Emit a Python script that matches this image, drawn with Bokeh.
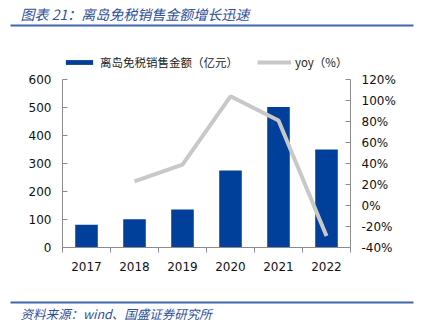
from bokeh.plotting import figure
from bokeh.layouts import column
from bokeh.models import (Range1d, LinearAxis, FixedTicker, PrintfTickFormatter,
                          Legend, LegendItem, ColumnDataSource)
from bokeh.core.properties import value
from bokeh.embed import file_html
from bokeh.resources import INLINE

# ---- data ----
years = ["2017", "2018", "2019", "2020", "2021", "2022"]
sales = [81, 101, 136, 275, 502, 350]          # 离岛免税销售金额（亿元）
yoy = [None, 23, 39, 104, 81, -29]              # yoy（%）
left_ticks = [0, 100, 200, 300, 400, 500, 600]
right_ticks = [-40, -20, 0, 20, 40, 60, 80, 100, 120]
series_names = ["离岛免税销售金额（亿元）", "yoy（%）"]

title_text = "图表 21：离岛免税销售金额增长迅速"
source_text = "资料来源：wind、国盛证券研究所"

BLUE = "#00409A"
GREY = "#C8C8C8"
RULE = "#3F66AE"
TXT_BLUE = "#2F4F9A"
AX = "#8C8C8C"
CJK = "Noto Sans CJK SC"
NUM = "DejaVu Sans"

W = 421
HH = 72
NAN = float("nan")

# ---- header (title, rule, legend) ----
hdr = figure(width=W, height=HH, x_range=Range1d(0, W), y_range=Range1d(HH, 0),
             output_backend="svg", toolbar_location=None, min_border=0, frame_align=False)
hdr.axis.visible = False
hdr.grid.visible = False
hdr.outline_line_color = None
hdr.text(x=[20], y=[13], text=[title_text], text_font=value(CJK), text_font_size="14px",
         text_font_style="italic", text_color=TXT_BLUE, text_baseline="middle", text_align="left")
hdr.line(x=[10, 413], y=[25, 25], line_color=RULE, line_width=2)
# legend glyph proxies (undrawn NaN point, only used for the legend swatches)
lg_bar = hdr.vbar(x=[NAN], top=[NAN], width=1, fill_color=BLUE, line_color=None)
lg_line = hdr.line(x=[NAN, NAN], y=[NAN, NAN], line_color=GREY, line_width=4)
legend = Legend(items=[LegendItem(label=series_names[0], renderers=[lg_bar]),
                       LegendItem(label=series_names[1], renderers=[lg_line])],
                orientation="horizontal", location=(62, 2),
                glyph_width=34, glyph_height=6, label_standoff=4, spacing=19,
                padding=0, margin=0, border_line_color=None, background_fill_alpha=0,
                label_text_font=CJK, label_text_font_size="11.5px", label_text_color="#222222")
hdr.add_layout(legend, "center")

# ---- main chart ----
n = len(years)
xs = [i + 0.5 for i in range(n)]
src = ColumnDataSource(dict(x=xs, sales=sales))
yoy_x = [x for x, v in zip(xs, yoy) if v is not None]
yoy_v = [v for v in yoy if v is not None]

p = figure(width=W, height=295 - HH, x_range=Range1d(0, n), y_range=Range1d(0, 600),
           output_backend="svg", toolbar_location=None, frame_align=False,
           min_border_left=62, min_border_right=71, min_border_top=79 - HH, min_border_bottom=48)
p.outline_line_color = None
p.grid.visible = False
p.extra_y_ranges = {"yoy": Range1d(-40, 120)}

bars = p.vbar(x="x", top="sales", width=0.47, source=src, fill_color=BLUE, line_color=None)
ln = p.line(x=yoy_x, y=yoy_v, y_range_name="yoy", line_color=GREY, line_width=4)

# x axis
xa = p.xaxis[0]
xa.ticker = FixedTicker(ticks=xs, minor_ticks=list(range(n + 1)))
xa.major_label_overrides = {x: y for x, y in zip(xs, years)}
xa.major_tick_line_color = None
xa.major_tick_out = 0
xa.major_tick_in = 0
xa.minor_tick_out = 5
xa.minor_tick_in = 0
xa.minor_tick_line_color = AX
xa.axis_line_color = AX
xa.major_label_standoff = 9
xa.major_label_text_font = NUM
xa.major_label_text_font_size = "12px"
xa.major_label_text_color = "#111111"

# left axis
ya = p.yaxis[0]
ya.ticker = FixedTicker(ticks=left_ticks)
ya.major_tick_in = 5
ya.major_tick_out = 0
ya.minor_tick_line_color = None
ya.major_tick_line_color = AX
ya.axis_line_color = AX
ya.major_label_standoff = 11
ya.major_label_text_font = NUM
ya.major_label_text_font_size = "12px"
ya.major_label_text_color = "#111111"

# right axis
ra = LinearAxis(y_range_name="yoy", ticker=FixedTicker(ticks=right_ticks),
                formatter=PrintfTickFormatter(format="%d%%"))
ra.major_tick_in = 5
ra.major_tick_out = 0
ra.minor_tick_line_color = None
ra.major_tick_line_color = AX
ra.axis_line_color = AX
ra.major_label_standoff = 11
ra.major_label_text_font = NUM
ra.major_label_text_font_size = "12px"
ra.major_label_text_color = "#111111"
p.add_layout(ra, "right")

# ---- footer ----
ftr = figure(width=W, height=31, x_range=Range1d(0, W), y_range=Range1d(31, 0),
             output_backend="svg", toolbar_location=None, min_border=0, frame_align=False)
ftr.axis.visible = False
ftr.grid.visible = False
ftr.outline_line_color = None
ftr.line(x=[10, 413], y=[7, 7], line_color=RULE, line_width=2)
ftr.text(x=[20], y=[18], text=[source_text], text_font=value(CJK), text_font_size="12.5px",
         text_font_style="italic", text_color=TXT_BLUE, text_baseline="middle", text_align="left")

layout = column(hdr, p, ftr, spacing=0)
open("out.html", "w").write(file_html(layout, INLINE))
